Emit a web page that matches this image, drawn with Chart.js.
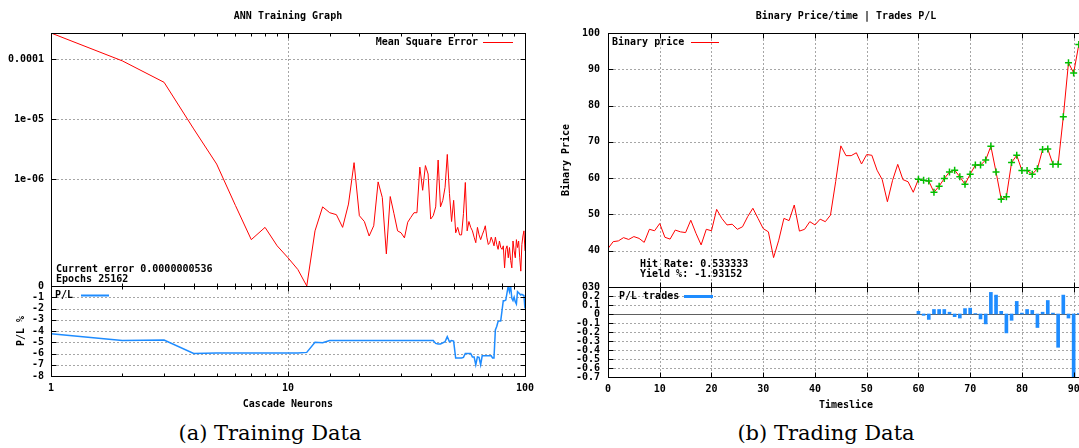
<!DOCTYPE html>
<html>
<head>
<meta charset="utf-8">
<script src="https://cdn.jsdelivr.net/npm/chart.js@4.4.1/dist/chart.umd.min.js"></script>
<style>
    html, body { margin: 0; padding: 0; background: #fff; }
    body { position: relative; width: 1079px; height: 448px; overflow: hidden; }
    canvas { position: absolute; }
    .caption { position: absolute; top: 420px; width: 240px; text-align: center; color: #000;
               font-family: "DejaVu Serif", serif; font-size: 21px; line-height: 26px; }
</style>
</head>
<body>
<canvas id="mse" width="540" height="300" style="left:0;top:0"></canvas>
<canvas id="pl" width="540" height="135" style="left:0;top:280px"></canvas>
<canvas id="price" width="552" height="300" style="left:540px;top:0"></canvas>
<canvas id="trades" width="552" height="135" style="left:540px;top:280px"></canvas>
<div class="caption" style="left:150px">(a) Training Data</div>
<div class="caption" style="left:706px">(b) Trading Data</div>

<script>
//======================================================================================================================
// Data
//======================================================================================================================

    var NEURONS = [1, 2, 3, 4, 5, 6, 7, 8, 9, 10, 11, 12, 13, 14, 15, 16, 17, 18, 19, 20,
        21, 22, 23, 24, 25, 26, 27, 28, 29, 30, 31, 32, 33, 34, 35, 36, 37, 38, 39, 40,
        41, 42, 43, 44, 45, 46, 47, 48, 49, 50, 51, 52, 53, 54, 55, 56, 57, 58, 59, 60,
        61, 62, 63, 64, 65, 66, 67, 68, 69, 70, 71, 72, 73, 74, 75, 76, 77, 78, 79, 80,
        81, 82, 83, 84, 85, 86, 87, 88, 89, 90, 91, 92, 93, 94, 95, 96, 97, 98, 99, 100];

    var MSE = [2.7e-4, 9.3e-5, 4.1e-5, 6.9e-6, 1.8e-6, 3.7e-7, 1.0e-7, 1.6e-7, 7.9e-8, 5.0e-8,
        3.2e-8, 1.7e-8, 1.4e-7, 3.5e-7, 2.8e-7, 2.6e-7, 1.6e-7, 3.9e-7, 1.9e-6, 2.5e-7,
        2.0e-7, 1.15e-7, 1.7e-7, 9.1e-7, 5.0e-7, 5.8e-8, 5.2e-7, 2.7e-7, 1.4e-7, 1.3e-7,
        1.07e-7, 1.95e-7, 2.35e-7, 2.8e-7, 2.8e-7, 1.6e-6, 6.6e-7, 1.7e-6, 1.23e-6, 2.2e-7,
        2.5e-7, 3.5e-7, 2.1e-6, 3.5e-7, 4.5e-7, 7.4e-7, 2.6e-6, 5.8e-7, 2.0e-7, 4.5e-7,
        1.3e-7, 1.6e-7, 1.2e-7, 1.2e-7, 2.7e-7, 8.9e-7, 1.4e-7, 2.0e-7, 1.6e-7, 1.4e-7,
        1.1e-7, 8.9e-8, 1.6e-7, 1.2e-7, 1.0e-7, 1.2e-7, 1.4e-7, 1.7e-7, 1.1e-7, 8.3e-8,
        8.9e-8, 1.1e-7, 9.5e-8, 7.9e-8, 1.1e-7, 8.3e-8, 6.9e-8, 9.5e-8, 7.4e-8, 6.9e-8,
        7.9e-8, 3.4e-8, 6.9e-8, 7.9e-8, 5.0e-8, 7.4e-8, 4.5e-8, 3.4e-8, 9.5e-8, 6.5e-8,
        5.0e-8, 1.0e-7, 7.4e-8, 9.5e-8, 5.0e-8, 3.0e-8, 8.3e-8, 1.15e-7, 1.4e-7, 6.5e-8];

    var PL_PERCENT = [-4.25, -4.85, -4.8, -6.0, -5.95, -5.95, -5.95, -5.95, -5.95, -5.95,
        -5.95, -5.9, -5.0, -5.05, -4.85, -4.85, -4.85, -4.85, -4.85, -4.85,
        -4.85, -4.85, -4.85, -4.85, -4.85, -4.85, -4.85, -4.85, -4.85, -4.85,
        -4.85, -4.85, -4.85, -4.85, -4.85, -4.85, -4.85, -4.85, -4.85, -4.85,
        -4.85, -5.1, -5.15, -5.15, -5.05, -4.95, -4.5, -4.95, -4.85, -4.9,
        -6.4, -6.4, -6.4, -6.4, -6.35, -6.0, -6.0, -6.0, -6.0, -6.3,
        -6.3, -7.0, -6.3, -6.35, -7.0, -6.2, -6.2, -6.2, -6.2, -6.2,
        -6.2, -6.2, -6.4, -6.4, -3.9, -3.6, -3.15, -3.1, -3.1, -2.2,
        -1.3, -1.3, -1.25, -0.6, 0, -0.5, 0, -1.1, -1.3, -1.0,
        -1.4, -1.6, -0.5, -0.6, -0.7, -0.8, -0.75, -0.8, -0.85, -2.0];

    var MSE_RANGE = [1.7e-8, 2.7e-4];
    var MSE_TICKS = [1e-6, 1e-5, 1e-4];
    var MSE_TICK_LABELS = ['1e-06', '1e-05', '0.0001'];
    var NEURON_LABELS = [1, 10, 100];
    var NEURON_GRID = [10];

    var TIMESLICE = [0, 1, 2, 3, 4, 5, 6, 7, 8, 9, 10, 11, 12, 13, 14, 15, 16, 17, 18, 19,
        20, 21, 22, 23, 24, 25, 26, 27, 28, 29, 30, 31, 32, 33, 34, 35, 36, 37, 38, 39,
        40, 41, 42, 43, 44, 45, 46, 47, 48, 49, 50, 51, 52, 53, 54, 55, 56, 57, 58, 59,
        60, 61, 62, 63, 64, 65, 66, 67, 68, 69, 70, 71, 72, 73, 74, 75, 76, 77, 78, 79,
        80, 81, 82, 83, 84, 85, 86, 87, 88, 89, 90, 91];

    var PRICE = [40.6, 42.5, 42.7, 43.6, 43.1, 43.9, 43.4, 42.3, 45.9, 45.5,
        47.5, 43.7, 43.2, 45.7, 45.2, 45.0, 48.4, 44.8, 41.6, 45.9,
        45.5, 51.4, 48.9, 47.1, 47.3, 45.9, 46.6, 49.4, 51.7, 48.9,
        46.1, 45.2, 38.1, 42.9, 48.9, 48.3, 52.6, 45.4, 45.9, 48.0,
        47.1, 48.7, 48.0, 49.8, 59.0, 68.9, 66.2, 66.2, 67.0, 63.9,
        66.5, 66.3, 62.2, 59.6, 53.5, 59.4, 63.8, 59.6, 59.0, 56.1,
        59.7, 59.4, 59.2, 56.1, 57.8, 59.9, 61.7, 62.2, 60.4, 58.3,
        61.1, 63.6, 63.6, 65.0, 68.8, 61.7, 54.2, 54.9, 64.3, 66.3,
        62.1, 62.1, 61.1, 62.6, 67.9, 68.0, 63.8, 63.8, 76.9, 91.8,
        89.0, 96.8];

    var TRADE_SLICES = [60, 61, 62, 63, 64, 65, 66, 67, 68, 69, 70, 71, 72, 73, 74, 75,
        76, 77, 78, 79, 80, 81, 82, 83, 84, 85, 86, 87, 88, 89, 90, 91];

    var TRADE_PL = [0.03, -0.015, -0.06, 0.05, 0.05, 0.05, 0.02, -0.03, -0.045, 0.06, 0.065, 0.005,
        -0.055, -0.11, 0.24, 0.21, 0.03, -0.21, -0.07, 0.14, 0.01, 0.05, 0.04, -0.15,
        0.02, 0.15, 0.01, -0.37, 0.21, -0.045, -0.7, 0.005];

//======================================================================================================================
// Style
//======================================================================================================================

    var RED = '#ff0000';
    var BLUE = '#1e8cff';
    var GREEN = '#00c000';
    var GRID = '#a6a6a6';
    var FONT = 'bold 10px "DejaVu Sans Mono"';

    Chart.defaults.font.family = '"DejaVu Sans Mono", monospace';
    Chart.defaults.font.size = 10;
    Chart.defaults.font.weight = 'bold';
    Chart.defaults.color = '#000';

    function isPow10(v) {
        var l = Math.log10(v);
        return Math.abs(l - Math.round(l)) < 1e-9;
    }

    function isInner(scale, v) {
        var eps = Math.abs(scale.max - scale.min) * 1e-6;
        return v > scale.min + eps && v < scale.max - eps;
    }

    function hasValue(list, v) {
        return list.some(function(w) { return Math.abs(w - v) <= Math.abs(w) * 1e-9; });
    }

    // fixed y axis width, and no extra room for the end labels, so the plot boxes line up
    function yAxisWidth(w) {
        return function(s) {
            s.width = w;
            s.paddingTop = 0;
            s.paddingBottom = 0;
        };
    }

    // dotted grey grid under the data, dot by dot; a value list limits it to those ticks
    function drawGrid(chart, gridX, gridY, zeroLine) {
        var a = chart.chartArea, ctx = chart.ctx;
        var xs = chart.scales.x, ys = chart.scales.y;
        var top = Math.round(a.top), bottom = Math.round(a.bottom);
        var left = Math.round(a.left), right = Math.round(a.right);
        var p;

        ctx.save();
        ctx.fillStyle = GRID;
        xs.ticks.forEach(function(tk) {
            if (!isInner(xs, tk.value) || (gridX && !hasValue(gridX, tk.value))) return;
            var px = Math.round(xs.getPixelForValue(tk.value));
            for (p = top + 2; p < bottom; p += 4) ctx.fillRect(px, p, 1, 2);
        });
        ys.ticks.forEach(function(tk) {
            if (!isInner(ys, tk.value) || (gridY && !hasValue(gridY, tk.value))) return;
            var py = Math.round(ys.getPixelForValue(tk.value));
            for (p = left + 2; p < right; p += 4) ctx.fillRect(p, py, 2, 1);
        });

        if (zeroLine) {
            ctx.fillStyle = '#606060';
            ctx.fillRect(left, Math.round(ys.getPixelForValue(0)), right - left, 1);
        }
        ctx.restore();
    }

    // gnuplot look: full border, inward tick marks, title, keys and labels inside the plot
    var gnuplotFrame = {
        id: 'gnuplotFrame',
        beforeDatasetsDraw: function(chart) {
            var g = chart.config.options.gnuplotGrid || {};
            drawGrid(chart, g.x, g.y, g.zeroLine);
        },
        afterDraw: function(chart, args, opts) {
            var a = chart.chartArea, ctx = chart.ctx;
            var xs = chart.scales.x, ys = chart.scales.y;
            var l = Math.round(a.left) + 0.5, r = Math.round(a.right) + 0.5;
            var t = Math.round(a.top) + 0.5, b = Math.round(a.bottom) + 0.5;

            ctx.save();
            ctx.strokeStyle = '#000';
            ctx.lineWidth = 1;
            ctx.strokeRect(l, t, r - l, b - t);

            ctx.beginPath();
            xs.ticks.forEach(function(tk) {
                var px = Math.round(xs.getPixelForValue(tk.value)) + 0.5;
                if (px <= l + 1 || px >= r - 1) return;
                var len = (xs.type === 'logarithmic' && !isPow10(tk.value)) ? 3 : 5;
                ctx.moveTo(px, b); ctx.lineTo(px, b - len);
                ctx.moveTo(px, t); ctx.lineTo(px, t + len);
            });
            ys.ticks.forEach(function(tk) {
                var py = Math.round(ys.getPixelForValue(tk.value)) + 0.5;
                if (py <= t + 1 || py >= b - 1) return;
                ctx.moveTo(l, py); ctx.lineTo(l + 5, py);
                ctx.moveTo(r, py); ctx.lineTo(r - 5, py);
            });
            ctx.stroke();

            ctx.font = FONT;
            ctx.fillStyle = '#000';
            ctx.textBaseline = 'middle';
            if (opts.title) {
                ctx.textAlign = 'center';
                ctx.fillText(opts.title, (a.left + a.right) / 2, 16);
            }
            (opts.keys || []).forEach(function(k) {
                ctx.textAlign = k.align || 'left';
                ctx.fillText(k.text, a.left + k.x, a.top + k.y);
                ctx.strokeStyle = k.color;
                ctx.lineWidth = k.width;
                ctx.beginPath();
                ctx.moveTo(a.left + k.from, Math.round(a.top + k.y) + 0.5);
                ctx.lineTo(a.left + k.to, Math.round(a.top + k.y) + 0.5);
                ctx.stroke();
            });
            (opts.notes || []).forEach(function(n) {
                ctx.textAlign = 'left';
                ctx.fillText(n.text, a.left + n.x, a.top + n.y);
            });
            ctx.restore();
        }
    };
    Chart.register(gnuplotFrame);

    function points(xs, ys) {
        return xs.map(function(x, i) { return {x: x, y: ys[i]}; });
    }

    var base = {
        responsive: false,
        animation: false,
        devicePixelRatio: 1,
        events: []
    };

    var noGrid = { display: false, drawTicks: false };
    var noBorder = { display: false };

//======================================================================================================================
// (a) ANN Training Graph
//======================================================================================================================

    new Chart(document.getElementById('mse'), {
        type: 'line',
        data: {
            datasets: [{
                label: 'Mean Square Error',
                data: points(NEURONS, MSE),
                borderColor: RED,
                borderWidth: 1,
                pointRadius: 0,
                tension: 0
            }]
        },
        options: Object.assign({}, base, {
            gnuplotGrid: { x: NEURON_GRID, y: MSE_TICKS },
            layout: { padding: { top: 33, right: 15, bottom: 14, left: 0 } },
            plugins: {
                legend: { display: false },
                tooltip: { enabled: false },
                gnuplotFrame: {
                    title: 'ANN Training Graph',
                    keys: [{ text: 'Mean Square Error', align: 'right', x: 427, y: 9, from: 432, to: 462, color: RED, width: 1 }],
                    notes: [
                        { text: 'Current error 0.0000000536', x: 5, y: 236 },
                        { text: 'Epochs 25162', x: 5, y: 246 }
                    ]
                }
            },
            scales: {
                x: {
                    type: 'logarithmic', min: 1, max: 100,
                    ticks: { display: false, autoSkip: false },
                    grid: noGrid,
                    border: noBorder,
                    afterFit: function(s) { s.height = 0; }
                },
                y: {
                    type: 'logarithmic', min: MSE_RANGE[0], max: MSE_RANGE[1],
                    afterBuildTicks: function(s) {
                        s.ticks = [{ value: MSE_RANGE[0] }].concat(MSE_TICKS.map(function(v) { return { value: v }; }));
                    },
                    ticks: {
                        padding: 7,
                        autoSkip: false,
                        callback: function(v) {
                            var i = MSE_TICKS.indexOf(v);
                            return i >= 0 ? MSE_TICK_LABELS[i] : '0';
                        }
                    },
                    grid: noGrid,
                    border: noBorder,
                    afterFit: yAxisWidth(51)
                }
            }
        })
    });

    new Chart(document.getElementById('pl'), {
        type: 'line',
        data: {
            datasets: [{
                label: 'P/L',
                data: points(NEURONS, PL_PERCENT),
                borderColor: BLUE,
                borderWidth: 1.5,
                pointRadius: 0,
                tension: 0
            }]
        },
        options: Object.assign({}, base, {
            gnuplotGrid: { x: NEURON_GRID },
            layout: { padding: { top: 6, right: 15, bottom: 5, left: 0 } },
            plugins: {
                legend: { display: false },
                tooltip: { enabled: false },
                gnuplotFrame: {
                    keys: [{ text: 'P/L', x: 4, y: 9, from: 30, to: 58, color: BLUE, width: 2 }]
                }
            },
            scales: {
                x: {
                    type: 'logarithmic', min: 1, max: 100,
                    ticks: {
                        padding: 6, autoSkip: false, maxRotation: 0,
                        callback: function(v) { return NEURON_LABELS.indexOf(v) >= 0 ? String(v) : ''; }
                    },
                    grid: noGrid,
                    border: noBorder,
                    title: { display: true, text: 'Cascade Neurons', padding: { top: 0, bottom: 0 } },
                    afterFit: function(s) { s.height = 34; }
                },
                y: {
                    min: -8, max: 0,
                    ticks: {
                        stepSize: 1, padding: 7, autoSkip: false,
                        callback: function(v) { return v === 0 ? '' : String(v); }
                    },
                    grid: noGrid,
                    border: noBorder,
                    title: { display: true, text: 'P/L %', padding: { top: 15, bottom: 0 } },
                    afterFit: yAxisWidth(51)
                }
            }
        })
    });

//======================================================================================================================
// (b) Binary Price/time | Trades P/L
//======================================================================================================================

    new Chart(document.getElementById('price'), {
        type: 'line',
        data: {
            datasets: [{
                label: 'Binary price',
                data: points(TIMESLICE, PRICE),
                borderColor: RED,
                borderWidth: 1,
                tension: 0,
                pointStyle: 'cross',
                pointRadius: function(c) { return c.raw && c.raw.x >= TRADE_SLICES[0] ? 3.5 : 0; },
                pointBorderColor: GREEN,
                pointBorderWidth: 1.5
            }]
        },
        options: Object.assign({}, base, {
            gnuplotGrid: {},
            layout: { padding: { top: 33, right: 8, bottom: 13, left: 0 } },
            plugins: {
                legend: { display: false },
                tooltip: { enabled: false },
                gnuplotFrame: {
                    title: 'Binary Price/time | Trades P/L',
                    keys: [{ text: 'Binary price', x: 4, y: 9, from: 83, to: 111, color: RED, width: 1 }],
                    notes: [
                        { text: 'Hit Rate: 0.533333', x: 32, y: 231 },
                        { text: 'Yield %: -1.93152', x: 32, y: 241 }
                    ]
                }
            },
            scales: {
                x: {
                    type: 'linear', min: 0, max: 92,
                    ticks: { display: false, stepSize: 10, includeBounds: false },
                    grid: noGrid,
                    border: noBorder,
                    afterFit: function(s) { s.height = 0; }
                },
                y: {
                    min: 30, max: 100,
                    ticks: {
                        stepSize: 10, padding: 8, autoSkip: false,
                        callback: function(v) { return v === 30 ? '030' : String(v); }
                    },
                    grid: noGrid,
                    border: noBorder,
                    title: { display: true, text: 'Binary Price', padding: { top: 20, bottom: 0 } },
                    afterFit: yAxisWidth(68)
                }
            }
        })
    });

    new Chart(document.getElementById('trades'), {
        type: 'bar',
        data: {
            datasets: [{
                label: 'P/L trades',
                data: points(TRADE_SLICES, TRADE_PL),
                backgroundColor: BLUE,
                borderWidth: 0,
                barThickness: 3
            }]
        },
        options: Object.assign({}, base, {
            gnuplotGrid: { zeroLine: true },
            layout: { padding: { top: 7, right: 8, bottom: 4, left: 0 } },
            plugins: {
                legend: { display: false },
                tooltip: { enabled: false },
                gnuplotFrame: {
                    keys: [{ text: 'P/L trades', x: 11, y: 9, from: 76, to: 105, color: BLUE, width: 3 }]
                }
            },
            scales: {
                x: {
                    type: 'linear', min: 0, max: 92, offset: false,
                    ticks: { stepSize: 10, includeBounds: false, padding: 6, maxRotation: 0, autoSkip: false },
                    grid: { display: false, drawTicks: false, offset: false },
                    border: noBorder,
                    title: { display: true, text: 'Timeslice', padding: { top: 0, bottom: 0 } },
                    afterFit: function(s) { s.height = 34; }
                },
                y: {
                    min: -0.7, max: 0.3,
                    ticks: {
                        stepSize: 0.1, padding: 8, autoSkip: false,
                        callback: function(v) {
                            var r = Math.round(v * 10) / 10;
                            if (r === 0.3) return '';
                            return r === 0 ? '0' : r.toFixed(1);
                        }
                    },
                    grid: noGrid,
                    border: noBorder,
                    afterFit: yAxisWidth(68)
                }
            }
        })
    });
</script>
</body>
</html>
